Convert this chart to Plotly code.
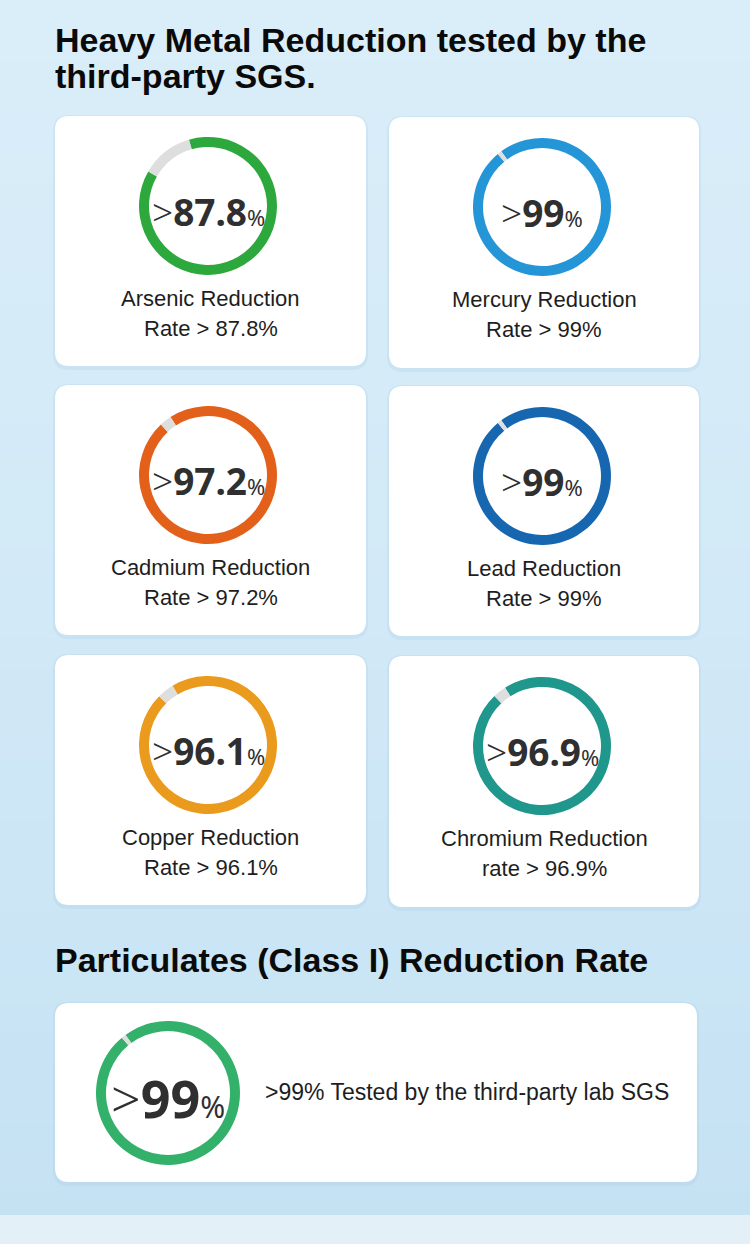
import plotly.graph_objects as go

W, H = 750, 1244

# ---------------- data ----------------
title_lines = ["Heavy Metal Reduction tested by the", "third-party SGS."]
metals = ["Arsenic", "Mercury", "Cadmium", "Lead", "Copper", "Chromium"]
rates = [87.8, 99, 97.2, 99, 96.1, 96.9]
rate_words = ["Rate", "Rate", "Rate", "Rate", "Rate", "rate"]
colors = ["#2da83c", "#2495d6", "#e2601a", "#1766b0", "#ea9a1c", "#1f978c"]

section2_title = "Particulates (Class I) Reduction Rate"
particulate_rate = 99
particulate_color = "#33b16a"
particulate_note = "Tested by the third-party lab SGS"

GRAY = "#dedede"

# ---------------- layout helpers (pixels) ----------------
cards = [(55, 116, 366, 366), (389, 117, 699, 368),
         (55, 385, 366, 635), (389, 386, 699, 636),
         (55, 655, 366, 905), (389, 656, 699, 907)]
big_card = (55, 1003, 697, 1182)
ring_centers = [(208, 206), (542, 207), (208, 475), (542, 476), (208, 745), (542, 746)]
R_small, T_small = 69, 10
big_center, R_big, T_big = (168, 1093), 72, 10


def rr(x0, y0, x1, y1, r):
    return (f"M{x0+r},{y0} L{x1-r},{y0} Q{x1},{y0} {x1},{y0+r} L{x1},{y1-r} "
            f"Q{x1},{y1} {x1-r},{y1} L{x0+r},{y1} Q{x0},{y1} {x0},{y1-r} "
            f"L{x0},{y0+r} Q{x0},{y0} {x0+r},{y0} Z")


def fmt(v):
    return f"{v:g}"


shapes = []


def lerp(c1, c2, t):
    return "#%02x%02x%02x" % tuple(int(round(a + (b - a) * t)) for a, b in zip(c1, c2))


top_c, mid_c, low_c = (218, 238, 249), (210, 233, 247), (197, 226, 243)
n = 40
for i in range(n):
    y0 = 1215 * i / n
    y1 = 1215 * (i + 1) / n + 1
    t = i / (n - 1)
    col = lerp(top_c, mid_c, t * 2) if t < 0.5 else lerp(mid_c, low_c, (t - 0.5) * 2)
    shapes.append(dict(type="rect", xref="x", yref="y", x0=0, x1=W, y0=y0, y1=y1,
                       fillcolor=col, line=dict(width=0), layer="below"))
shapes.append(dict(type="rect", xref="x", yref="y", x0=0, x1=W, y0=1215, y1=H,
                   fillcolor="#e3f0f8", line=dict(width=0), layer="below"))

# cards with soft shadow
for (x0, y0, x1, y1) in cards + [big_card]:
    shapes.append(dict(type="path", xref="x", yref="y", path=rr(x0 - 2, y0 - 1, x1 + 2, y1 + 4, 16),
                       fillcolor="rgba(160,200,228,0.22)", line=dict(width=0), layer="below"))
    shapes.append(dict(type="path", xref="x", yref="y", path=rr(x0, y0, x1, y1, 14),
                       fillcolor="#ffffff", line=dict(width=0), layer="below"))

fig = go.Figure()


def add_ring(cx, cy, R, T, val, color):
    gap = 100 - val
    fig.add_trace(go.Pie(
        values=[val, gap], marker=dict(colors=[color, GRAY], line=dict(width=0)),
        hole=(R - T) / R, sort=False, direction="clockwise",
        rotation=-38 + gap * 3.6 / 2,
        textinfo="none", hoverinfo="skip", showlegend=False,
        domain=dict(x=[(cx - R) / W, (cx + R) / W], y=[1 - (cy + R) / H, 1 - (cy - R) / H]),
    ))


annotations = []
NUMFONT = "Noto Sans, Open Sans, DejaVu Sans, sans-serif"
LABFONT = "Liberation Sans, Arial, sans-serif"
TITLEFONT = "Liberation Sans, Arial, sans-serif"
LABSIZE = 22

for i, m in enumerate(metals):
    cx, cy = ring_centers[i]
    add_ring(cx, cy, R_small, T_small, rates[i], colors[i])
    annotations.append(dict(
        x=cx, y=cy + 5, xref="x", yref="y", showarrow=False,
        text=(f"<span style='font-weight:300'>&gt;</span><b>{fmt(rates[i])}</b>"
              f"<span style='font-size:22px'>%</span>"),
        font=dict(family=NUMFONT, size=37, color="#2f2f2f"), xanchor="center", yanchor="middle"))
    card = cards[i]
    mx = (card[0] + card[2]) / 2
    annotations.append(dict(x=mx, y=cy + 92, xref="x", yref="y", showarrow=False,
                            text=f"{m} Reduction", font=dict(family=LABFONT, size=LABSIZE, color="#1e1e1e"),
                            xanchor="center", yanchor="middle"))
    annotations.append(dict(x=mx, y=cy + 122, xref="x", yref="y", showarrow=False,
                            text=f"{rate_words[i]} &gt; {fmt(rates[i])}%",
                            font=dict(family=LABFONT, size=LABSIZE, color="#1e1e1e"),
                            xanchor="center", yanchor="middle"))

# particulates ring
add_ring(big_center[0], big_center[1], R_big, T_big, particulate_rate, particulate_color)
annotations.append(dict(
    x=big_center[0], y=big_center[1] + 4, xref="x", yref="y", showarrow=False,
    text=(f"<span style='font-weight:300'>&gt;</span><b>{fmt(particulate_rate)}</b>"
          f"<span style='font-size:30px'>%</span>"),
    font=dict(family=NUMFONT, size=52, color="#2f2f2f"), xanchor="center", yanchor="middle"))
annotations.append(dict(x=263, y=1092, xref="x", yref="y", showarrow=False,
                        text=f"&gt;{fmt(particulate_rate)}% {particulate_note}",
                        font=dict(family=LABFONT, size=23, color="#1e1e1e"),
                        xanchor="left", yanchor="middle"))

# titles
for k, line in enumerate(title_lines):
    annotations.append(dict(x=53, y=40 + 36 * k, xref="x", yref="y", showarrow=False,
                            text=f"<b>{line}</b>", font=dict(family=TITLEFONT, size=34, color="#0a0a0a"),
                            xanchor="left", yanchor="middle"))
annotations.append(dict(x=53, y=960, xref="x", yref="y", showarrow=False,
                        text=f"<b>{section2_title}</b>", font=dict(family=TITLEFONT, size=34, color="#0a0a0a"),
                        xanchor="left", yanchor="middle"))

# invisible scatter to anchor cartesian axes
fig.add_trace(go.Scatter(x=[0, W], y=[0, H], mode="markers", marker=dict(opacity=0),
                         hoverinfo="skip", showlegend=False))

fig.update_layout(
    width=W, height=H, margin=dict(l=0, r=0, t=0, b=0),
    paper_bgcolor="#d3e9f6", plot_bgcolor="rgba(0,0,0,0)",
    xaxis=dict(range=[0, W], visible=False, fixedrange=True),
    yaxis=dict(range=[H, 0], visible=False, fixedrange=True),
    shapes=shapes, annotations=annotations, showlegend=False,
)

fig.write_html("out.html", config={"displayModeBar": False},
               post_script="document.body.style.margin='0';document.body.style.overflow='hidden';")
